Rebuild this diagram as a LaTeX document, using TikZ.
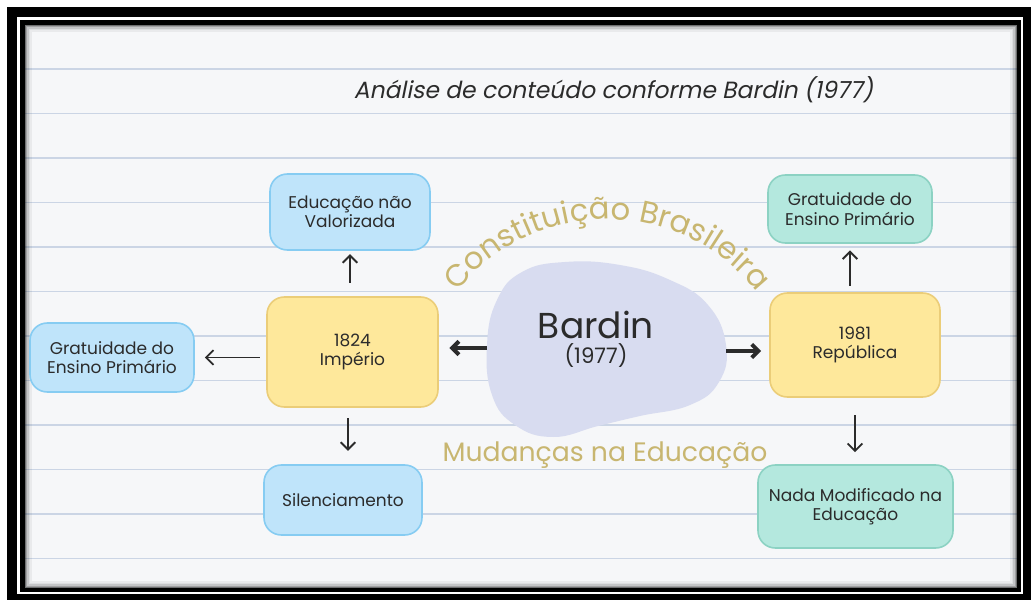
\documentclass[tikz,border=0pt]{standalone}
\usepackage{fontspec}
\setmainfont{Poppins}
\newfontfamily\handit[FakeSlant=0.2]{Poppins}
\usetikzlibrary{arrows.meta,decorations.text}
\definecolor{paper}{HTML}{F6F7F9}
\definecolor{rule}{HTML}{CBD5E5}
\definecolor{bluef}{HTML}{BFE4FA}
\definecolor{blued}{HTML}{86CCF2}
\definecolor{yelf}{HTML}{FEE89B}
\definecolor{yeld}{HTML}{EBCD78}
\definecolor{tealf}{HTML}{B4E8DE}
\definecolor{teald}{HTML}{8CD2C3}
\definecolor{lav}{HTML}{D8DCF0}
\definecolor{gold}{HTML}{C8B670}
\definecolor{ink}{HTML}{2B2B2B}
\tikzset{
  boxbase/.style={rounded corners=13pt, line width=1.2pt, align=center, text=ink,
    font=\fontsize{12.75}{14.5}\selectfont, inner sep=2pt},
  bluebox/.style={boxbase, fill=bluef, draw=blued},
  yelbox/.style={boxbase, fill=yelf, draw=yeld},
  tealbox/.style={boxbase, fill=tealf, draw=teald},
  arr/.style={draw=ink, line width=1.4pt, -{Straight Barb[length=5.5pt,width=11pt]}},
  bigarr/.style={draw=ink, line width=3pt, -{Straight Barb[length=5pt,width=10pt]}},
}
\begin{document}
\begin{tikzpicture}[x=0.75pt,y=-0.75pt]
\useasboundingbox (0,0) rectangle (1036,602);
\fill[white] (0,0) rectangle (1036,602);
% frame
\fill[black] (7,7) rectangle (1031,600);
\fill[white] (17,17) rectangle (1023,594);
\fill[black] (20,20) rectangle (1021,592);
\fill[paper] (25,25) rectangle (1017,588);
\foreach \yy in {69,113.5,158,202.5,247,291.5,336,380.5,425,469.5,514,558.5}
  \draw[rule, line width=1.1pt] (25,\yy) -- (1017,\yy);
\foreach \i/\o in {0/0.55,1.5/0.35,3/0.2,4.5/0.1,6/0.05}
  \draw[black, opacity=\o, line width=1.2pt] ({25+\i},{25+\i}) rectangle ({1017-\i},{588-\i});

% title
\node[text=ink, font=\handit\fontsize{17.6}{20}\selectfont] (title) at (613.5,90) {Análise de conteúdo conforme Bardin (1977)};

% blob
\fill[lav] plot[smooth cycle, tension=0.75] coordinates {(487,345) (497,300) (522,272) (565,262) (620,265) (670,280) (708,305) (726,345) (719,382) (690,405) (640,416) (598,426) (553,437) (515,425) (492,395)};
\node[align=center, text=ink, inner sep=0pt, font=\fontsize{27}{19}\selectfont] (bardin) at (596,339)
  {Bardin\\{\fontsize{16}{16}\selectfont (1977)}};
\coordinate (bw) at (487,348);
\coordinate (be) at (726,351);

% curved texts
\path[decorate, decoration={text along path, text align=center,
  text={|\fontsize{23}{23}\selectfont\color{gold}|Constituição Brasileira}}]
  (444,311) .. controls (518.5,189) and (695.5,189) .. (770,311);
\node[text=gold, font=\fontsize{20}{20}\selectfont] (mud) at (605,455) {Mudanças na Educação};

% boxes
\node[bluebox, minimum width=120pt, minimum height=57pt] (edu) at (350,212) {Educação não\\Valorizada};
\node[bluebox, minimum width=123pt, minimum height=51.75pt] (gratL) at (112,357.5) {Gratuidade do\\Ensino Primário};
\node[yelbox, minimum width=128.25pt, minimum height=82.5pt] (imp) at (352.5,352) {1824\\Império};
\node[bluebox, minimum width=118.5pt, minimum height=52.5pt] (sil) at (343,500) {Silenciamento};
\node[yelbox, minimum width=127.5pt, minimum height=78pt] (rep) at (855,345) {1981\\República};
\node[tealbox, minimum width=123pt, minimum height=51pt] (gratR) at (850,209) {Gratuidade do\\Ensino Primário};
\node[tealbox, minimum width=146.25pt, minimum height=62.25pt] (nada) at (855.5,506.5) {Nada Modificado na\\Educação};

% connectors
\draw[arr, shorten <=10pt, shorten >=2.5pt] (imp.north -| edu.south) -- (edu.south);
\draw[arr, shorten <=5pt, shorten >=7.5pt] (imp.west |- gratL.east) -- (gratL.east);
\draw[arr, shorten <=8pt, shorten >=10pt] (imp.south -| sil.north) ++(5,0) coordinate (s1) (s1) -- (s1 |- sil.north);
\draw[bigarr, shorten >=8pt] (bw) -- (imp.east |- bw);
\draw[bigarr, shorten >=6pt] (be) -- (rep.west |- be);
\draw[arr, shorten <=5pt, shorten >=5pt] (rep.north -| gratR.south) -- (gratR.south);
\draw[arr, shorten <=13pt, shorten >=9pt] (rep.south) -- (rep.south |- nada.north);
\end{tikzpicture}
\end{document}
